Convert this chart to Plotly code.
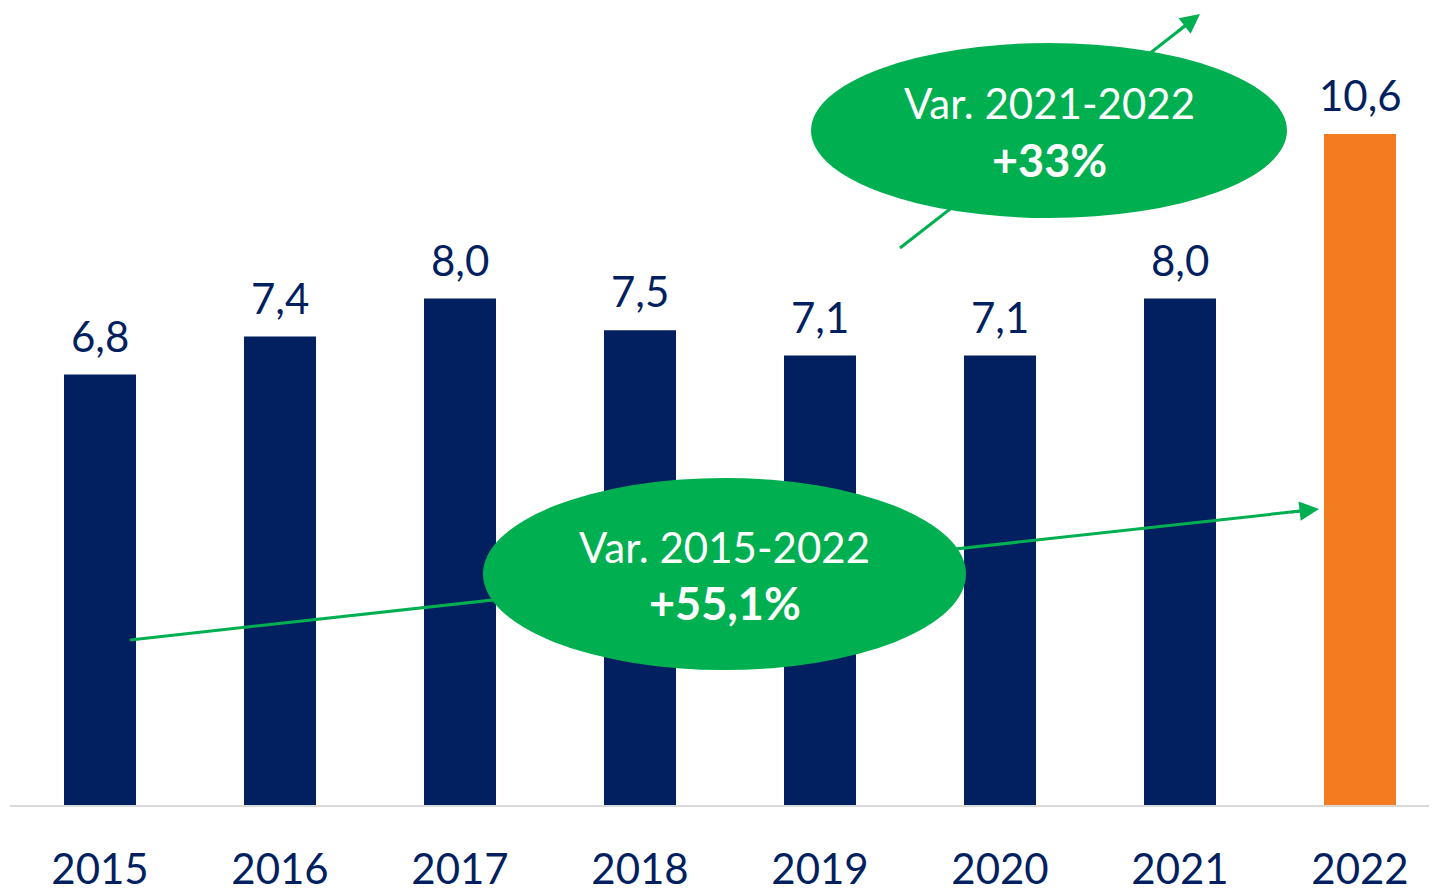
import plotly.graph_objects as go

years = ["2015", "2016", "2017", "2018", "2019", "2020", "2021", "2022"]
values = [6.8, 7.4, 8.0, 7.5, 7.1, 7.1, 8.0, 10.6]
bar_colors = ["#021F5F"] * 7 + ["#F47C20"]
labels = [f"{v:.1f}".replace(".", ",") for v in values]

NAVY = "#021F5F"
GREEN = "#00B050"
FONT = "Lato"

fig = go.Figure()
fig.add_trace(go.Bar(x=years, y=values, marker=dict(color=bar_colors, line=dict(width=0)),
                     width=0.4, hoverinfo="skip"))

# value labels (category index positions)
for i, (v, lab) in enumerate(zip(values, labels)):
    fig.add_annotation(x=i, y=v, xref="x", yref="y", text=lab, showarrow=False,
                       yanchor="middle", yshift=39,
                       font=dict(family=FONT, size=42, color=NAVY))

# helpers converting reference-screen pixels to data units for decorations
PX_PER_UNIT = 63.3
BASE = 805
def dx(px):
    return (px - 100) / 180.0
def dy(py):
    return (BASE - py) / PX_PER_UNIT

shapes = []
shapes.append(dict(type="line", xref="x", yref="y", x0=dx(900), y0=dy(248), x1=dx(1190), y1=dy(22),
                   line=dict(color=GREEN, width=3), layer="above"))
shapes.append(dict(type="circle", xref="x", yref="y", x0=dx(811), x1=dx(1287), y0=dy(218), y1=dy(43),
                   fillcolor=GREEN, line=dict(width=0), layer="above"))
shapes.append(dict(type="line", xref="x", yref="y", x0=dx(130), y0=dy(640), x1=dx(1305), y1=dy(510.5),
                   line=dict(color=GREEN, width=3), layer="above"))
shapes.append(dict(type="circle", xref="x", yref="y", x0=dx(483), x1=dx(966), y0=dy(670), y1=dy(478),
                   fillcolor=GREEN, line=dict(width=0), layer="above"))

fig.add_annotation(x=dx(1200), y=dy(14), ax=dx(1176.3), ay=dy(32.5), xref="x", yref="y",
                   axref="x", ayref="y", showarrow=True, arrowhead=2, arrowsize=1.3,
                   arrowwidth=3, arrowcolor=GREEN, text="")
fig.add_annotation(x=dx(1319), y=dy(509), ax=dx(1289.2), ay=dy(512.3), xref="x", yref="y",
                   axref="x", ayref="y", showarrow=True, arrowhead=2, arrowsize=1.3,
                   arrowwidth=3, arrowcolor=GREEN, text="")

fig.add_annotation(x=dx(1049), y=dy(103), xref="x", yref="y", text="Var. 2021-2022", showarrow=False,
                   font=dict(family=FONT, size=42, color="white"))
fig.add_annotation(x=dx(1049), y=dy(160), xref="x", yref="y", text="<b>+33%</b>", showarrow=False,
                   font=dict(family=FONT, size=45, color="white"))
fig.add_annotation(x=dx(724.5), y=dy(547), xref="x", yref="y", text="Var. 2015-2022", showarrow=False,
                   font=dict(family=FONT, size=42, color="white"))
fig.add_annotation(x=dx(724.5), y=dy(603), xref="x", yref="y", text="<b>+55,1%</b>", showarrow=False,
                   font=dict(family=FONT, size=45, color="white"))

# page has an 8px body margin: figure coords = screen coords - 8
fig.update_layout(
    width=1437, height=889,
    margin=dict(l=2, r=0, t=0, b=889 - (BASE - 8), autoexpand=False),
    paper_bgcolor="white", plot_bgcolor="white",
    showlegend=False,
    shapes=shapes,
    xaxis=dict(type="category", range=[-0.5, -0.5 + 1435 / 180.0], showgrid=False,
               automargin=False,
               showline=True, linecolor="#D9D9D9", linewidth=2, zeroline=False,
               ticks="outside", ticklen=27, tickcolor="rgba(0,0,0,0)",
               tickfont=dict(family=FONT, size=42, color=NAVY)),
    yaxis=dict(range=[0, (BASE - 8) / PX_PER_UNIT], visible=False, showgrid=False, zeroline=False,
               automargin=False),
)

fig.write_html("out.html")
